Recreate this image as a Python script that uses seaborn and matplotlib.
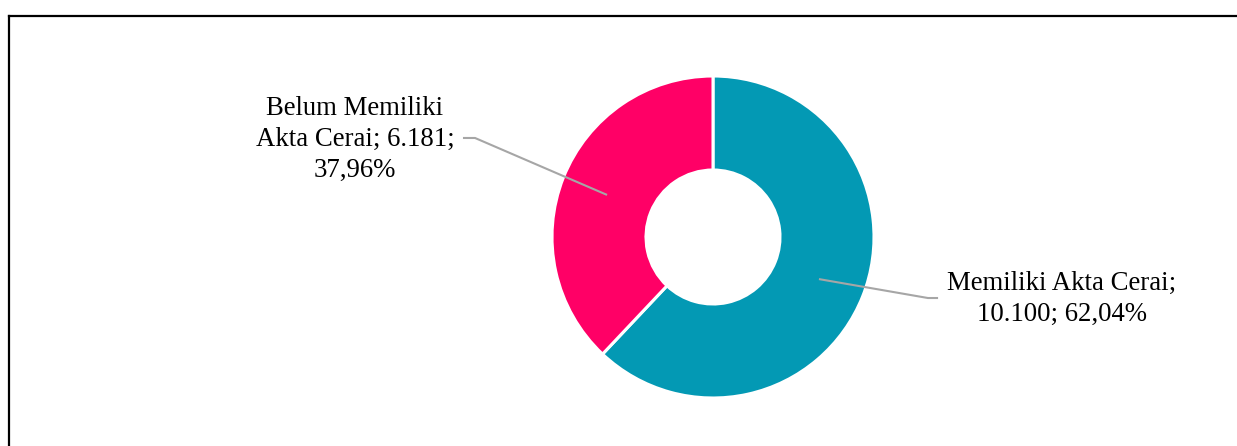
import matplotlib
matplotlib.use("Agg")
import matplotlib.pyplot as plt
import seaborn as sns
import numpy as np
from matplotlib.lines import Line2D

# ---- data ----
categories = ["Memiliki Akta Cerai", "Belum Memiliki Akta Cerai"]
label_lines = [["Memiliki Akta Cerai;", "{v}; {p}"],
               ["Belum Memiliki", "Akta Cerai; {v};", "{p}"]]
values = [10100, 6181]
colors = ["#0399B4", "#FF0066"]

sns.set_theme(style="white")
plt.rcParams["font.family"] = ["Liberation Serif", "DejaVu Serif"]

W, H = 1237, 446
fig = plt.figure(figsize=(W / 100, H / 100), dpi=100)
ax = fig.add_axes([0, 0, 1, 1])

# pixel layout: donut centre (713, 237), outer radius 161 px
cx, cy, R = 713, 237, 161

inner = 67 / R
width = 1 - inner
wedges, _ = ax.pie(values, colors=colors, startangle=90, counterclock=False,
                   radius=1, wedgeprops=dict(width=width, edgecolor="white", linewidth=2.2))
ax.set_aspect("auto")
ax.set_xlim(-cx / R, (W - cx) / R)
ax.set_ylim(-(H - cy) / R, cy / R)
ax.set_axis_off()

total = sum(values)
fmt_num = lambda v: f"{v:,}".replace(",", ".")
fmt_pct = lambda v: f"{100 * v / total:.2f}%".replace(".", ",")

# label layout (data units): label centre, leader elbow x, leader end x
label_pos = [(2.168, -0.385), (-2.224, 0.605)]
leader_y = [-0.379, 0.615]
leader_x = [(1.335, 1.398), (-1.478, -1.553)]
rmid = 1 - width / 2
for i, w in enumerate(wedges):
    ang = np.deg2rad((w.theta1 + w.theta2) / 2)
    sx, sy = rmid * np.cos(ang), rmid * np.sin(ang)
    txt = "\n".join(label_lines[i]).format(v=fmt_num(values[i]), p=fmt_pct(values[i]))
    lx, ly = label_pos[i]
    ax.text(lx, ly, txt, ha="center", va="center", multialignment="center",
            fontsize=19.3, color="#000000", linespacing=1.3)
    elx, ex = leader_x[i]
    ax.add_line(Line2D([sx, elx, ex], [sy, leader_y[i], leader_y[i]], color="#A6A6A6",
                       lw=1.5, solid_capstyle="butt"))

# frame lines (top & left)
fig.add_artist(Line2D([8.5 / W, 1], [1 - 15.5 / H, 1 - 15.5 / H], color="black", lw=1.6,
                      transform=fig.transFigure, solid_capstyle="projecting"))
fig.add_artist(Line2D([8.5 / W, 8.5 / W], [0, 1 - 15.5 / H], color="black", lw=1.6,
                      transform=fig.transFigure, solid_capstyle="projecting"))

fig.savefig("out.png", dpi=100, facecolor="white")
